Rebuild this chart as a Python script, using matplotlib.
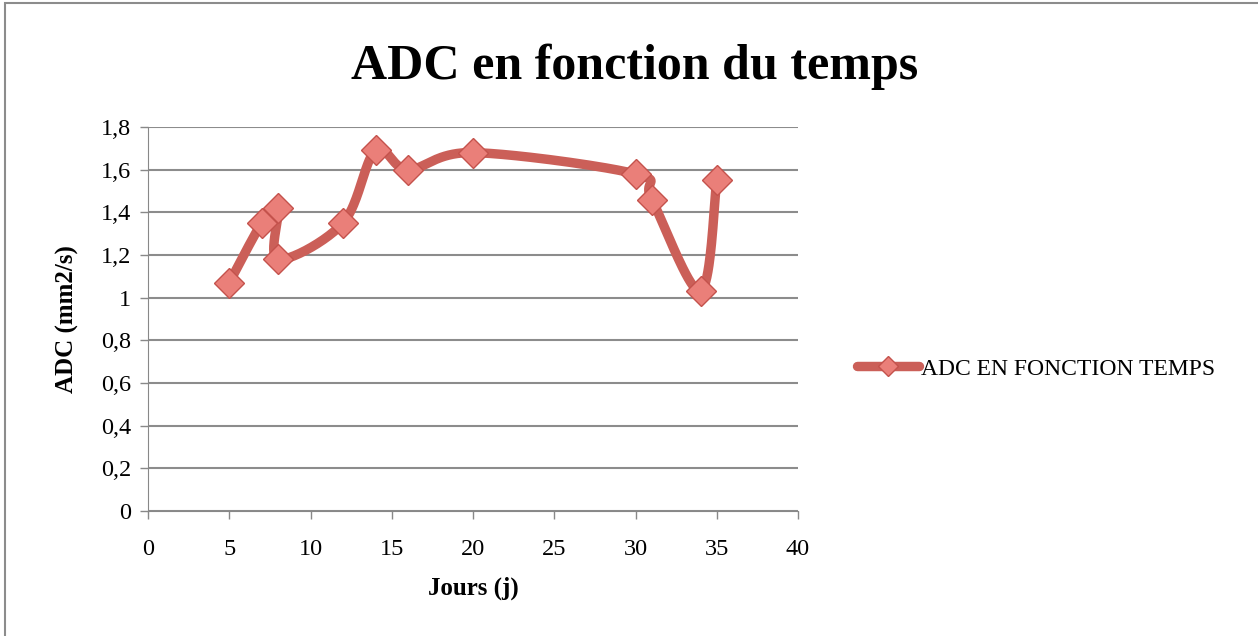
import matplotlib.pyplot as plt
import numpy as np
from matplotlib.patches import Rectangle
from matplotlib.lines import Line2D

jours = [5, 7, 8, 8, 12, 14, 16, 20, 30, 31, 34, 35]
adc = [1.07, 1.35, 1.42, 1.18, 1.35, 1.69, 1.60, 1.68, 1.58, 1.46, 1.03, 1.55]
serie = 'ADC EN FONCTION TEMPS'
y_ticks = [0, 0.2, 0.4, 0.6, 0.8, 1, 1.2, 1.4, 1.6, 1.8]
x_ticks = [0, 5, 10, 15, 20, 25, 30, 35, 40]

plt.rcParams['font.family'] = ['Liberation Serif', 'DejaVu Serif']

line_col = '#CB5F58'
mk_face = '#EA7F79'
mk_edge = '#C4524C'


def lisser(x, y, n=40):
    # courbe lissée type Excel (Catmull-Rom en Bezier)
    p = np.column_stack([x, y]).astype(float)
    p = np.vstack([p[0], p, p[-1]])
    out = []
    t = np.linspace(0, 1, n)[:, None]
    for i in range(1, len(p) - 2):
        p0, p1, p2, p3 = p[i - 1], p[i], p[i + 1], p[i + 2]
        c1 = p1 + (p2 - p0) / 6
        c2 = p2 - (p3 - p1) / 6
        seg = ((1 - t) ** 3) * p1 + 3 * ((1 - t) ** 2) * t * c1 + 3 * (1 - t) * t ** 2 * c2 + t ** 3 * p2
        out.append(seg)
    out = np.vstack(out)
    return out[:, 0], out[:, 1]


fig = plt.figure(figsize=(12.58, 6.36), dpi=100)
ax = fig.add_axes([148 / 1258, 1 - 511 / 636, 650 / 1258, 384 / 636])

sx, sy = lisser(jours, adc)
ax.plot(sx, sy, color=line_col, lw=6.8, solid_capstyle='round', solid_joinstyle='round', zorder=3)
ax.plot(jours, adc, ls='none', marker='D', ms=15, mfc=mk_face, mec=mk_edge, mew=1, zorder=4)

ax.set_xlim(0, 40)
ax.set_ylim(0, 1.8)
ax.set_xticks(x_ticks)
ax.set_yticks(y_ticks)
ax.set_yticklabels([('%g' % v).replace('.', ',') for v in y_ticks])
ax.tick_params(labelsize=17.5, length=6, width=1, color='#888888', direction='out')
ax.tick_params(axis='x', pad=14)
ax.tick_params(axis='y', pad=6)
ax.grid(axis='y', color='#8C8C8C', lw=1.5)
ax.set_axisbelow(True)
for s in ['top', 'right']:
    ax.spines[s].set_visible(False)
ax.spines['left'].set_color('#888888')
ax.spines['bottom'].set_color('#888888')

ax.set_xlabel('Jours (j)', fontsize=18, fontweight='bold', labelpad=12)
ax.set_ylabel('ADC (mm2/s)', fontsize=18, fontweight='bold', labelpad=16)
fig.text(0.5045, 0.895, 'ADC en fonction du temps', ha='center', va='center',
         fontsize=36, fontweight='bold')

h = Line2D([], [], color=line_col, lw=6.8, marker='D', ms=10, mfc=mk_face, mec=mk_edge,
           solid_capstyle='round')
fig.legend([h], [serie], loc='center left', bbox_to_anchor=(836 / 1258, 1 - 369 / 636),
           frameon=False, fontsize=17, handlelength=2.6, handletextpad=0.1)

fig.patches.append(Rectangle((5 / 1258, -0.1), 2, 1.1 - 3 / 636, transform=fig.transFigure,
                             fill=False, ec='#8C8C8C', lw=1.5))

fig.savefig('out.png', dpi=100)
